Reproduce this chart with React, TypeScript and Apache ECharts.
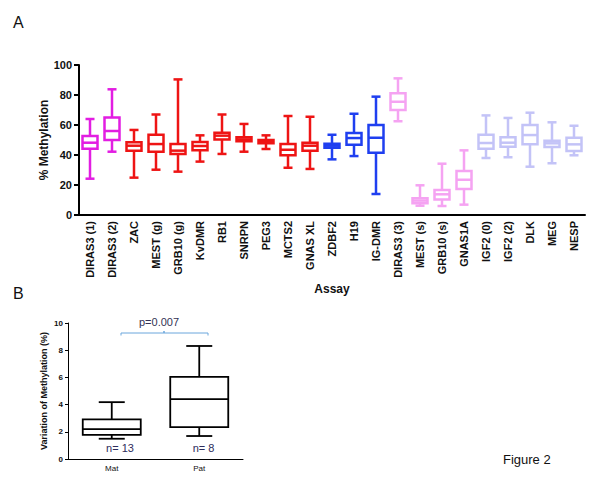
import React, { useEffect, useRef } from "react";
import * as echarts from "echarts";

// Panel A data
const assays = [
  "DIRAS3 (1)", "DIRAS3 (2)", "ZAC", "MEST (g)", "GRB10 (g)", "KvDMR", "RB1", "SNRPN",
  "PEG3", "MCTS2", "GNAS XL", "ZDBF2", "H19", "IG-DMR", "DIRAS3 (3)", "MEST (s)",
  "GRB10 (s)", "GNAS1A", "IGF2 (0)", "IGF2 (2)", "DLK", "MEG", "NESP",
];
const minsA = [24.2, 42.2, 24.9, 30.2, 28.9, 35.6, 40.7, 42.2, 44, 31.5, 30.7, 37.1, 39.3, 14, 62.5, 6.2, 6, 6.9, 38, 38.5, 32.2, 34.5, 39.8];
const q1A = [44.2, 50, 42.9, 42.2, 40.7, 43.1, 50.4, 49.1, 47.8, 39.8, 42.9, 44.9, 46.9, 41.5, 70, 7.8, 10.4, 17.3, 44.2, 45.5, 47.1, 45.3, 42.7];
const medA = [48.2, 56, 46.2, 47.3, 42.9, 46, 52.9, 50.4, 49.1, 43.5, 46.2, 46.2, 51.3, 51.5, 75.5, 9.6, 13.8, 23.5, 48, 48.2, 53.3, 47.8, 47.1];
const q3A = [52.7, 65, 48.5, 53.5, 47.3, 48.7, 54.9, 51.8, 50, 47.3, 48.2, 47.5, 54.7, 60, 81.1, 11.1, 16.7, 29.3, 53.5, 51.8, 60, 49.5, 51.5];
const maxA = [64, 83.8, 56.7, 67, 90.4, 53.1, 67, 60.7, 53.1, 66, 65.5, 53.5, 67.5, 78.9, 91.1, 19.8, 34.2, 43.1, 66.4, 64.7, 68.2, 61.8, 59.5];
// group index of each assay (0 magenta, 1 red, 2 blue, 3 pink, 4 lavender)
const assayGroup = [0, 0, 1, 1, 1, 1, 1, 1, 1, 1, 1, 2, 2, 2, 3, 3, 3, 3, 4, 4, 4, 4, 4];
const yTicksA = [0, 20, 40, 60, 80, 100];

// Panel B data
const groupsB = ["Mat", "Pat"];
const minsB = [1.49, 1.69];
const q1B = [1.78, 2.35];
const medB = [2.2, 4.4];
const q3B = [2.91, 6.04];
const maxB = [4.18, 8.31];
const countsB = [13, 8];
const pValue = "0.007";

const GROUP_COLORS = ["#e21de2", "#ee1414", "#1f3ff0", "#f5a3f2", "#c3c3f7"];
const FONT = "'Liberation Sans', Arial, sans-serif";

function makeRenderer(boxW: number, capW: number, lw: number, colorOf: (i: number) => string) {
  return (params: any, api: any) => {
    const i = api.value(0);
    const pMin = api.coord([i, api.value(1)]);
    const pQ1 = api.coord([i, api.value(2)]);
    const pMed = api.coord([i, api.value(3)]);
    const pQ3 = api.coord([i, api.value(4)]);
    const pMax = api.coord([i, api.value(5)]);
    const cx = pMin[0];
    const color = colorOf(params.dataIndex);
    const ls = { stroke: color, lineWidth: lw, fill: "none" };
    return {
      type: "group",
      children: [
        { type: "line", shape: { x1: cx, y1: pQ3[1], x2: cx, y2: pMax[1] }, style: ls },
        { type: "line", shape: { x1: cx, y1: pQ1[1], x2: cx, y2: pMin[1] }, style: ls },
        { type: "line", shape: { x1: cx - capW / 2, y1: pMax[1], x2: cx + capW / 2, y2: pMax[1] }, style: ls },
        { type: "line", shape: { x1: cx - capW / 2, y1: pMin[1], x2: cx + capW / 2, y2: pMin[1] }, style: ls },
        {
          type: "rect",
          shape: { x: cx - boxW / 2, y: pQ3[1], width: boxW, height: pQ1[1] - pQ3[1] },
          style: { stroke: color, lineWidth: lw, fill: "#fff" },
        },
        { type: "line", shape: { x1: cx - boxW / 2, y1: pMed[1], x2: cx + boxW / 2, y2: pMed[1] }, style: ls },
      ],
    };
  };
}

export default function App() {
  const ref = useRef<HTMLDivElement>(null);
  useEffect(() => {
    document.body.style.margin = "0";
    if (!ref.current) return;
    const chart = echarts.init(ref.current, undefined, { renderer: "svg" });
    const dataA = assays.map((_, i) => [i, minsA[i], q1A[i], medA[i], q3A[i], maxA[i]]);
    const dataB = groupsB.map((_, i) => [i, minsB[i], q1B[i], medB[i], q3B[i], maxB[i]]);
    chart.setOption({
      animation: false,
      backgroundColor: "#fff",
      textStyle: { fontFamily: FONT },
      grid: [
        { left: 79, top: 65, width: 506, height: 150 },
        { left: 68, top: 323, width: 175, height: 136 },
      ],
      xAxis: [
        {
          gridIndex: 0,
          type: "category",
          data: assays,
          boundaryGap: true,
          name: "Assay",
          nameLocation: "middle",
          nameGap: 68,
          nameMoveOverlap: false,
          nameTextStyle: { fontSize: 12, fontWeight: "bold", color: "#111", fontFamily: FONT },
          axisLine: { lineStyle: { color: "#000", width: 2 } },
          axisTick: { alignWithLabel: true, length: 4, lineStyle: { color: "#000", width: 1.5 } },
          axisLabel: { rotate: 90, interval: 0, margin: 6, fontSize: 11, fontWeight: "bold", color: "#111", fontFamily: FONT },
          splitLine: { show: false },
        },
        {
          gridIndex: 1,
          type: "category",
          data: groupsB,
          boundaryGap: true,
          axisLine: { lineStyle: { color: "#000", width: 1 } },
          axisTick: { alignWithLabel: true, length: 3, lineStyle: { color: "#000", width: 1 } },
          axisLabel: { margin: 5, fontSize: 8, color: "#111", fontFamily: FONT },
          splitLine: { show: false },
        },
      ],
      yAxis: [
        {
          gridIndex: 0,
          type: "value",
          min: yTicksA[0],
          max: yTicksA[yTicksA.length - 1],
          interval: 20,
          name: "% Methylation",
          nameLocation: "middle",
          nameGap: 29,
          nameMoveOverlap: false,
          nameTextStyle: { fontSize: 12, fontWeight: "bold", color: "#111", fontFamily: FONT },
          axisLine: { show: true, lineStyle: { color: "#000", width: 2 } },
          axisTick: { show: true, length: 5, lineStyle: { color: "#000", width: 2 } },
          axisLabel: { margin: 7, fontSize: 11, fontWeight: "bold", color: "#111", fontFamily: FONT },
          splitLine: { show: false },
        },
        {
          gridIndex: 1,
          type: "value",
          min: 0,
          max: 10,
          interval: 2,
          name: "Variation of Methylation (%)",
          nameLocation: "middle",
          nameGap: 20,
          nameMoveOverlap: false,
          nameTextStyle: { fontSize: 9, fontWeight: "bold", color: "#111", fontFamily: FONT },
          axisLine: { show: true, lineStyle: { color: "#000", width: 1 } },
          axisTick: { show: true, length: 3, lineStyle: { color: "#000", width: 1 } },
          axisLabel: { margin: 5, fontSize: 8, fontWeight: "bold", color: "#111", fontFamily: FONT },
          splitLine: { show: false },
        },
      ],
      series: [
        {
          type: "custom",
          name: "Methylation",
          xAxisIndex: 0,
          yAxisIndex: 0,
          encode: { x: 0, y: [1, 2, 3, 4, 5] },
          data: dataA,
          renderItem: makeRenderer(15, 9, 2.5, (i) => GROUP_COLORS[assayGroup[i]]),
        },
        {
          type: "custom",
          name: "Variation",
          xAxisIndex: 1,
          yAxisIndex: 1,
          encode: { x: 0, y: [1, 2, 3, 4, 5] },
          data: dataB,
          renderItem: makeRenderer(58, 26, 1.8, () => "#000"),
        },
      ],
      graphic: [
        { type: "text", left: 13, top: 14, style: { text: "A", fontSize: 16, fill: "#111", fontFamily: FONT } },
        { type: "text", left: 13, top: 285, style: { text: "B", fontSize: 16, fill: "#111", fontFamily: FONT } },
        { type: "text", left: 503, top: 453, style: { text: "Figure 2", fontSize: 13, fill: "#111", fontFamily: FONT } },
        {
          type: "text",
          x: 159,
          y: 322,
          style: { text: "p=" + pValue, fontSize: 11, fill: "#333355", fontFamily: FONT, align: "center", verticalAlign: "middle" },
        },
        {
          type: "polyline",
          shape: { points: [[121, 335.5], [121, 333], [164, 333], [164, 331], [164, 333], [208, 333], [208, 335.5]] },
          style: { stroke: "#6aa6dc", lineWidth: 1, fill: "none" },
        },
        {
          type: "text",
          x: 120,
          y: 448,
          style: { text: "n= " + countsB[0], fontSize: 11, fill: "#2d2d5c", fontFamily: FONT, align: "center", verticalAlign: "middle" },
        },
        {
          type: "text",
          x: 203.5,
          y: 448,
          style: { text: "n= " + countsB[1], fontSize: 11, fill: "#2d2d5c", fontFamily: FONT, align: "center", verticalAlign: "middle" },
        },
      ],
    });
    return () => chart.dispose();
  }, []);
  return <div ref={ref} style={{ width: 600, height: 482 }} />;
}
